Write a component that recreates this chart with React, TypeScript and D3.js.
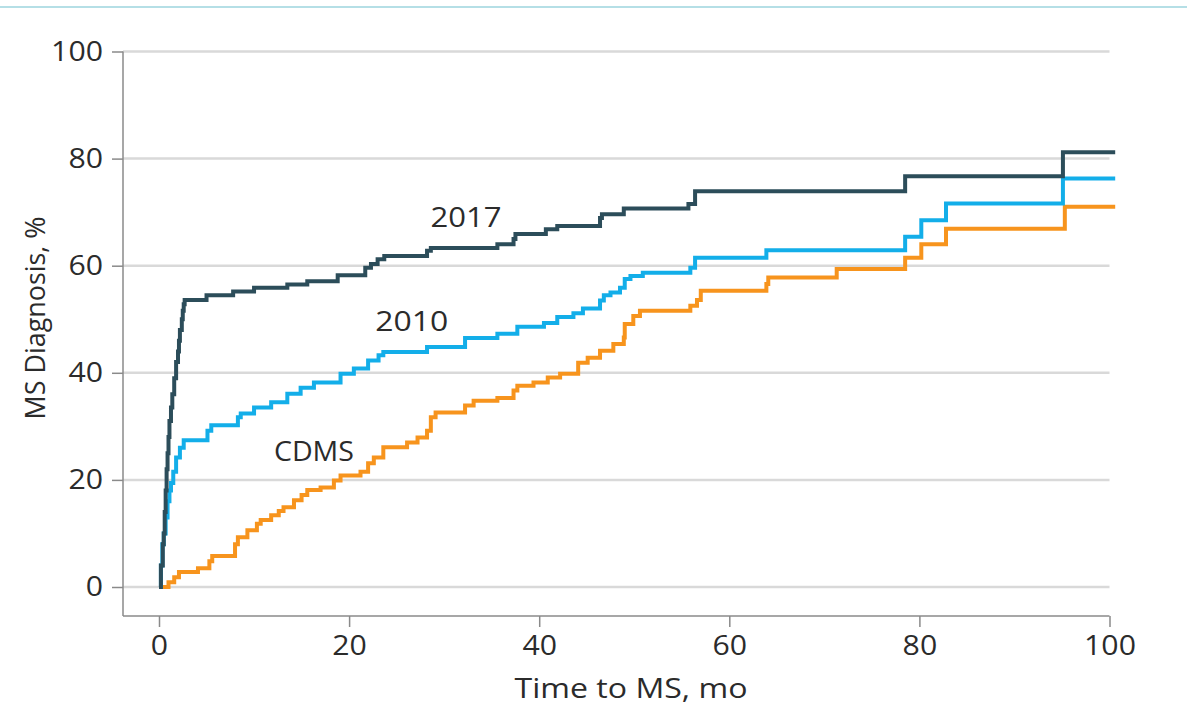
import { axisBottom, axisLeft, curveStepAfter, line, scaleLinear, select } from "d3";
import { useEffect, useRef } from "react";

// cumulative MS diagnosis (%), step points [month, value]
const series2017 = [
  [0, 0], [0.2, 4], [0.4, 8], [0.5, 10], [0.6, 14], [0.7, 18], [0.8, 22], [0.9, 25],
  [1.0, 28], [1.1, 31], [1.26, 33.5], [1.4, 36], [1.6, 39], [1.8, 42], [2.0, 44],
  [2.1, 46], [2.2, 48], [2.4, 50], [2.5, 51.6], [2.6, 52.8], [2.7, 53.6], [5.0, 54.5],
  [7.8, 55.2], [10, 55.9], [13.5, 56.5], [15.6, 57.1], [18.8, 58.2], [21.7, 59.6],
  [22.3, 60.3], [23.0, 61.2], [23.7, 61.8], [28.2, 62.8], [28.6, 63.3], [35.6, 64.0],
  [37.3, 65.0], [37.5, 65.9], [40.7, 66.8], [41.9, 67.4], [46.4, 68.9], [46.6, 69.6],
  [48.9, 70.7], [55.7, 71.5], [56.4, 73.9], [78.5, 76.7], [95.1, 81.2], [100.6, 81.2],
];
const series2010 = [
  [0, 0], [0.2, 4], [0.35, 8], [0.5, 10], [0.7, 13], [0.9, 16], [1.1, 18], [1.26, 19.4],
  [1.5, 21.5], [1.8, 24.2], [2.2, 26], [2.6, 27.4], [5.1, 29.2], [5.5, 30.2], [8.3, 31.7],
  [8.6, 32.4], [10, 33.5], [11.8, 34.5], [13.5, 36.1], [14.9, 37.2], [16.3, 38.2],
  [19.1, 39.8], [20.5, 40.8], [22, 42.3], [23.1, 43.3], [23.6, 43.9], [28.2, 44.8],
  [32.2, 46.5], [35.6, 47.3], [37.7, 48.6], [40.5, 49.3], [41.9, 50.4], [43.6, 51.1],
  [44.6, 52.0], [46.4, 53.5], [46.8, 54.5], [47.5, 55.0], [48.5, 55.9], [49.0, 57.5],
  [49.6, 58.1], [50.9, 58.7], [55.9, 59.6], [56.4, 61.5], [63.9, 62.9], [78.5, 65.4],
  [80.2, 68.5], [82.8, 71.6], [95.1, 76.3], [100.6, 76.3],
];
const seriesCDMS = [
  [0, 0], [1.0, 0.9], [1.6, 1.8], [2.1, 2.8], [4.1, 3.5], [5.3, 4.8], [5.6, 5.8],
  [8.0, 8.0], [8.3, 9.3], [9.3, 10.6], [10.3, 11.8], [10.7, 12.5], [11.8, 13.4],
  [12.6, 14.2], [13.1, 14.9], [14.2, 16.2], [15.0, 17.2], [15.6, 18.1], [17.0, 18.6],
  [18.4, 19.9], [19.1, 20.8], [21.2, 21.5], [22.0, 23.1], [22.6, 24.2], [23.6, 26.1],
  [26.1, 27.0], [27.2, 27.9], [28.2, 29.2], [28.6, 31.7], [29.1, 32.6], [32.2, 33.9],
  [33.1, 34.8], [35.6, 35.3], [37.3, 36.7], [37.7, 37.6], [39.4, 38.2], [40.9, 39.1],
  [42.2, 39.8], [44.1, 41.9], [45.1, 42.8], [46.4, 44.1], [47.8, 45.4], [48.9, 46.6],
  [49.0, 49.1], [49.9, 50.6], [50.6, 51.6], [55.9, 52.5], [56.6, 53.6], [57.0, 55.3],
  [63.9, 56.6], [64.1, 57.8], [71.3, 59.4], [78.5, 61.5], [80.2, 64.0], [82.8, 66.9],
  [95.3, 71.0], [100.6, 71.0],
];

const seriesNames = ["CDMS", "2010", "2017"];
const seriesColors = ["#f7941d", "#13aee9", "#2c4d5a"];
const seriesData = [seriesCDMS, series2010, series2017];
// label anchor positions in data units
const labelX = [16.3, 26.6, 32.3];
const labelY = [23.5, 47.8, 67.2];

const xTicks = [0, 20, 40, 60, 80, 100];
const yTicks = [0, 20, 40, 60, 80, 100];

const FONT = "'Open Sans', 'Noto Sans', sans-serif";
const INK = "#2b2b2b";

const App = () => {
  const svgRef = useRef(null);

  useEffect(() => {
    const width = 1187;
    const height = 708;
    const svg = select(svgRef.current).attr("width", width).attr("height", height);
    svg.selectAll("*").remove();

    const axisX = 123;
    const axisY = 616;

    const xScale = scaleLinear().domain([0, 100]).range([159, 1109.5]);
    const yScale = scaleLinear().domain([0, 100]).range([587, 51.5]);

    // top rule
    svg.append("line")
      .attr("x1", 0).attr("x2", width).attr("y1", 7).attr("y2", 7)
      .attr("stroke", "#b5dfe6").attr("stroke-width", 2);

    // grid
    svg.append("g")
      .selectAll("line")
      .data(yTicks)
      .join("line")
      .attr("x1", axisX)
      .attr("x2", xScale(100))
      .attr("y1", (d) => yScale(d))
      .attr("y2", (d) => yScale(d))
      .attr("stroke", "#d9d9d9")
      .attr("stroke-width", 2.5);

    // y axis
    const yAxis = axisLeft(yScale).tickValues(yTicks).tickSize(11).tickPadding(9).tickSizeOuter(0);
    const gy = svg.append("g").attr("transform", `translate(${axisX},0)`).call(yAxis);
    gy.select(".domain").attr("d", `M0,${yScale(100)}V${axisY}`);

    // x axis
    const xAxis = axisBottom(xScale).tickValues(xTicks).tickSize(11).tickPadding(9).tickSizeOuter(0);
    const gx = svg.append("g").attr("transform", `translate(0,${axisY})`).call(xAxis);
    gx.select(".domain").attr("d", `M${axisX},0H${xScale(100)}`);

    [gx, gy].forEach((g) => {
      g.selectAll(".domain").attr("stroke", "#8a8a8a").attr("stroke-width", 1.5);
      g.selectAll(".tick line").attr("stroke", "#8a8a8a").attr("stroke-width", 1.5);
      g.selectAll(".tick text")
        .attr("fill", INK)
        .style("font-family", FONT)
        .style("font-size", "27px")
        .attr("textLength", (d) => String(d).length * 17.3)
        .attr("lengthAdjust", "spacingAndGlyphs");
    });

    // step lines
    const stepLine = line()
      .x((d) => xScale(d[0]))
      .y((d) => yScale(d[1]))
      .curve(curveStepAfter);

    svg.append("g")
      .selectAll("path")
      .data(seriesData)
      .join("path")
      .attr("d", (d) => stepLine(d))
      .attr("fill", "none")
      .attr("stroke", (d, i) => seriesColors[i])
      .attr("stroke-width", 4);

    // series labels
    const labelLen = [80, 73, 71];
    svg.append("g")
      .selectAll("text")
      .data(seriesNames)
      .join("text")
      .attr("x", (d, i) => xScale(labelX[i]))
      .attr("y", (d, i) => yScale(labelY[i]))
      .attr("text-anchor", "middle")
      .attr("fill", INK)
      .style("font-family", FONT)
      .style("font-size", "28px")
      .attr("textLength", (d, i) => labelLen[i])
      .attr("lengthAdjust", "spacingAndGlyphs")
      .text((d) => d);

    // axis titles
    svg.append("text")
      .attr("x", 631)
      .attr("y", 698)
      .attr("text-anchor", "middle")
      .attr("fill", INK)
      .style("font-family", FONT)
      .style("font-size", "28px")
      .attr("textLength", 233)
      .attr("lengthAdjust", "spacingAndGlyphs")
      .text("Time to MS, mo");

    svg.append("text")
      .attr("transform", "translate(45,318) rotate(-90)")
      .attr("text-anchor", "middle")
      .attr("fill", INK)
      .style("font-family", FONT)
      .style("font-size", "28px")
      .attr("textLength", 203)
      .attr("lengthAdjust", "spacingAndGlyphs")
      .text("MS Diagnosis, %");
  }, []);

  return (
    <div style={{ position: "absolute", left: 0, top: 0, width: "1187px", height: "708px", background: "#fff" }}>
      <svg ref={svgRef} style={{ display: "block" }}></svg>
    </div>
  );
};

export default App;
